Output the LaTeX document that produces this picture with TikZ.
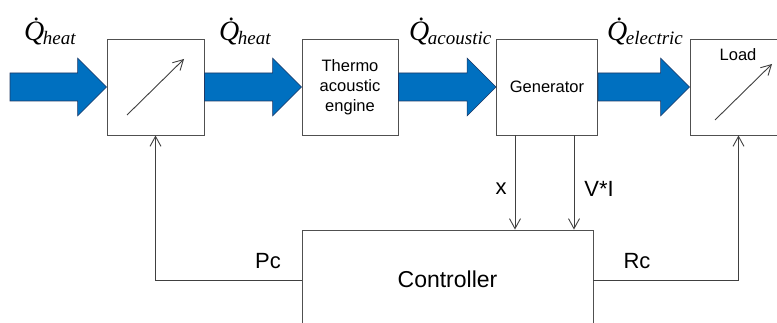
\documentclass[tikz,border=0pt]{standalone}
\usepackage{fontspec}
\setmainfont{Liberation Sans}
\newfontfamily\qfont{Liberation Serif}
\usetikzlibrary{arrows.meta,calc}
\definecolor{flowblue}{HTML}{0070C0}
\definecolor{flowedge}{HTML}{1F3864}
\definecolor{boxline}{HTML}{505050}
\newcommand\flowarrow[2]{%
  \filldraw[flowfill] let \p1=(#1), \p2=(#2) in
    (\x1,\y1+14pt) -- (\x2-29pt,\y1+14pt) -- (\x2-29pt,\y1+29pt) --
    (\x2,\y1) -- (\x2-29pt,\y1-29pt) -- (\x2-29pt,\y1-14pt) --
    (\x1,\y1-14pt) -- cycle;}
\newcommand\qlabel[1]{{\qfont\itshape\fontsize{28}{28}\selectfont\.{Q}\kern-1.5pt\raisebox{-4pt}{\fontsize{19}{19}\selectfont #1}}}
\begin{document}
\begin{tikzpicture}[x=1pt,y=-1pt,
  blk/.style={draw=boxline,line width=0.9pt,fill=white,minimum width=97pt,minimum height=96pt,inner sep=0pt,align=center,font=\fontsize{16.5}{20}\selectfont},
  flowfill/.style={fill=flowblue,draw=flowedge,line width=0.6pt},
  sig/.style={draw=boxline!80!black,line width=0.9pt,-{Straight Barb[length=10pt,width=11pt,line width=0.9pt]}},
  lbl/.style={inner sep=0pt,font=\fontsize{22}{22}\selectfont},
  qlab/.style={inner sep=0pt,anchor=base west}]
\useasboundingbox (0,0) rectangle (777,323);
% blocks
\node[blk] (valve) at (155.5,87) {};
\node[blk,minimum width=96pt] (engine) at (350,87) {Thermo\\acoustic\\engine};
\node[blk,minimum width=101pt] (gen) at (547,87) {Generator};
\node[blk] (load) at (738.5,87) {};
\node[anchor=center,inner sep=0pt,font=\fontsize{16.5}{20}\selectfont] (loadtxt) at (738,55) {Load};
\node[draw=boxline,line width=0.9pt,fill=white,minimum width=291pt,minimum height=98pt,inner sep=0pt,font=\fontsize{23}{23}\selectfont] (ctrl) at (447.5,279) {Controller};
% diagonal variable arrows
\draw[sig] ([shift={(-28.5,28)}]valve.center) -- ([shift={(28.5,-28)}]valve.center);
\draw[sig] ([shift={(-23.5,33)}]load.center) -- ([shift={(33.5,-23)}]load.center);
% big flow arrows
\coordinate (src) at (10,87);
\flowarrow{src}{valve.west}
\flowarrow{valve.east}{engine.west}
\flowarrow{engine.east}{gen.west}
\flowarrow{gen.east}{load.west}
% flow labels
\node[qlab] (q1) at (24,41) {\qlabel{heat}};
\node[qlab] (q2) at (219,41) {\qlabel{heat}};
\node[qlab] (q3) at (409,41) {\qlabel{acoustic}};
\node[qlab] (q4) at (607,41) {\qlabel{electric}};
% measurement signals
\draw[sig] ([xshift=-32pt]gen.south) -- ([xshift=-32pt]gen.south |- ctrl.north);
\draw[sig] ([xshift=27pt]gen.south) -- ([xshift=27pt]gen.south |- ctrl.north);
\node[lbl] (xl) at (501,189) {x};
\node[lbl] (vil) at (599,189) {V*I};
% control signals
\draw[sig] ([yshift=-1pt]ctrl.west) -| (valve.south);
\draw[sig] ([yshift=-1pt]ctrl.east) -| (load.south);
\node[lbl] (pc) at (268,261) {Pc};
\node[lbl] (rc) at (637,261) {Rc};
\end{tikzpicture}
\end{document}
